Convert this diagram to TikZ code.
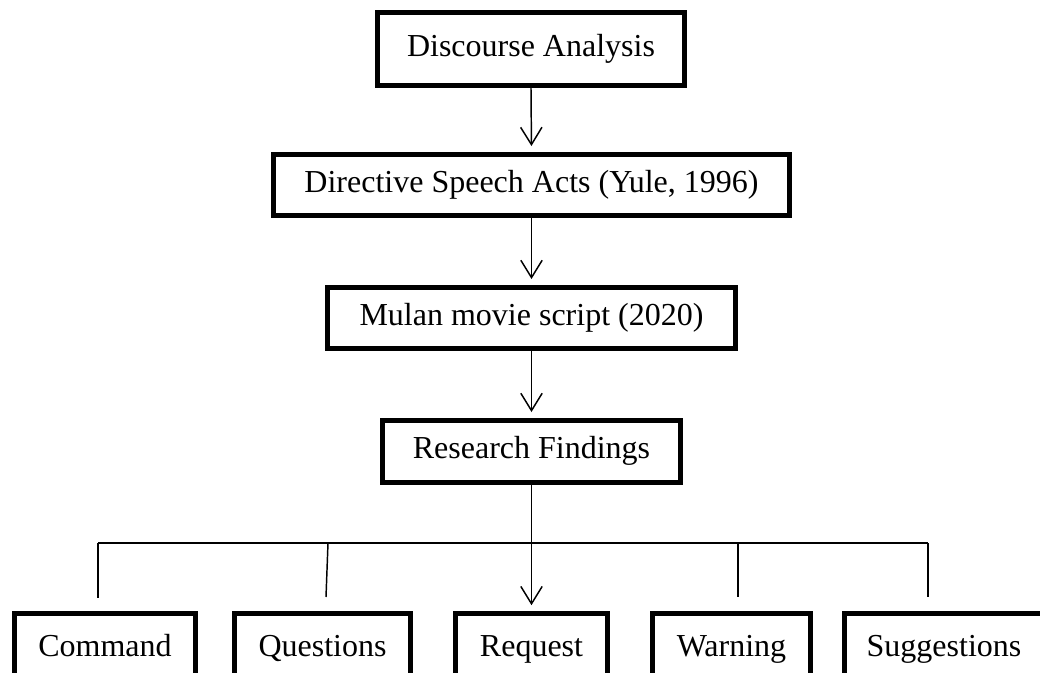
\documentclass[tikz,border=0pt]{standalone}
\usepackage{fontspec}
\setmainfont{Liberation Serif}
\usetikzlibrary{arrows.meta}
\tikzset{
	stagebox/.style={draw, line width=3.75pt, fill=white, inner sep=0pt, text height=16.5pt, text depth=5.5pt, font=\fontsize{24}{28}\selectfont},
	leadline/.style={line width=1.1pt},
	leadarrow/.style={line width=1.1pt, -{Straight Barb[length=13pt, width=16pt, line width=1.1pt]}, shorten >=4.5pt}
}

\begin{document}
\begin{tikzpicture}[x=0.75pt, y=-0.75pt]
			%%%%% START %%%%%
			
			\useasboundingbox (0, 0) rectangle (1040, 672);
			
			\node[stagebox, minimum width=230pt, minimum height=55pt] (discourse) at (531, 49) {Discourse Analysis};
			\node[stagebox, minimum width=387pt, minimum height=45.75pt] (directive) at (531.5, 185) {Directive Speech Acts (Yule, 1996)};
			\node[stagebox, minimum width=306pt, minimum height=45.75pt] (script) at (531.5, 318) {Mulan movie script (2020)};
			\node[stagebox, minimum width=223.5pt, minimum height=46.5pt] (findings) at (531.5, 451.5) {Research Findings};
			
			\node[stagebox, minimum width=135.75pt, minimum height=53pt] (command) at (105, 649) {Command};
			\node[stagebox, minimum width=132pt, minimum height=53pt] (questions) at (322.5, 649) {Questions};
			\node[stagebox, minimum width=114pt, minimum height=53pt] (request) at (531.5, 649) {Request};
			\node[stagebox, minimum width=118.5pt, minimum height=53pt] (warning) at (731.5, 649) {Warning};
			\node[stagebox, minimum width=149pt, minimum height=53pt] (suggestions) at (944, 649) {Suggestions};
			
			\draw[leadarrow] (discourse.south) -- (directive.north);
			\draw[leadarrow] (directive.south) -- (script.north);
			\draw[leadarrow] (script.south) -- (findings.north);
			
			\coordinate (barleft) at (98, 543);
			\coordinate (barright) at (928, 543);
			\coordinate (barmid) at (531.5, 543);
			\draw[leadline] (barleft) -- (barright);
			\draw[leadline] (findings.south) -- (barmid);
			\draw[leadarrow] (barmid) -- (request.north);
			
			\coordinate (cmdend) at (98, 598);
			\coordinate (qtop) at (328, 543);
			\coordinate (qend) at (326, 597);
			\coordinate (wtop) at (738, 543);
			\coordinate (wend) at (738, 597);
			\coordinate (send) at (928, 597);
			\draw[leadline] (barleft) -- (cmdend);
			\draw[leadline] (qtop) -- (qend);
			\draw[leadline] (wtop) -- (wend);
			\draw[leadline] (barright) -- (send);
			
			%%%%% END %%%%%
\end{tikzpicture}
\end{document}
